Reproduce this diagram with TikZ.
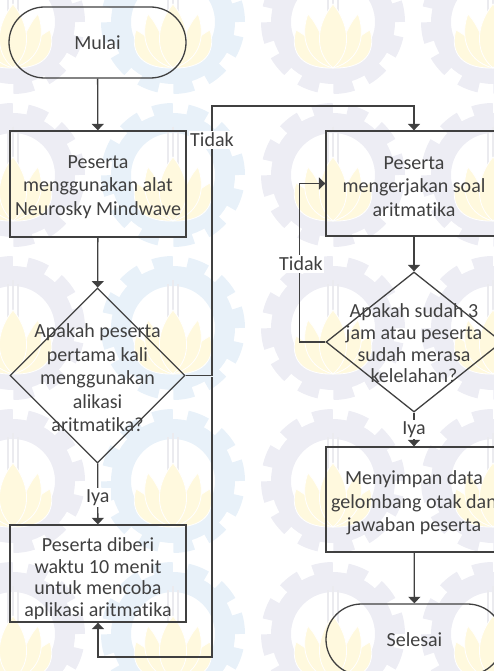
\documentclass[tikz,border=0pt]{standalone}
\usepackage{fontspec}
\setmainfont{Carlito}[Ligatures=NoCommon]
\usetikzlibrary{arrows.meta,shapes.geometric}

\definecolor{ink}{HTML}{404040}
\definecolor{gearlav}{HTML}{EDEDF4}
\definecolor{gearblue}{HTML}{E8F1F9}
\definecolor{lotus}{HTML}{FFF9DE}
\definecolor{staffgrey}{HTML}{EBEBEF}

% faint tiled emblem in the background: gear ring, staff and lotus
\newcommand{\emblem}[3]{%
  \begin{scope}[shift={(#1,#2)}]
    \draw[#3, line width=20pt] (0,0) circle[radius=52pt];
    \draw[#3, line width=12pt, dash pattern=on 20pt off 14.6pt] (0,0) circle[radius=66pt];
    \draw[staffgrey, line width=1.2pt] (-5,-44) -- (-5,6) (5,-44) -- (5,6) (0,-48) -- (0,2);
    \filldraw[fill=lotus, draw=white, line width=0.8pt]
      (0,46) .. controls (-38,47) and (-42,24) .. (-37,8) .. controls (-22,16) and (-10,30) .. (0,46);
    \filldraw[fill=lotus, draw=white, line width=0.8pt]
      (0,46) .. controls (38,47) and (42,24) .. (37,8) .. controls (22,16) and (10,30) .. (0,46);
    \filldraw[fill=lotus, draw=white, line width=0.8pt]
      (0,46) .. controls (-30,38) and (-32,10) .. (-25,-8) .. controls (-13,5) and (-7,26) .. (0,46);
    \filldraw[fill=lotus, draw=white, line width=0.8pt]
      (0,46) .. controls (30,38) and (32,10) .. (25,-8) .. controls (13,5) and (7,26) .. (0,46);
    \filldraw[fill=lotus, draw=white, line width=0.8pt]
      (0,46) .. controls (-21,28) and (-15,0) .. (0,-18) .. controls (15,0) and (21,28) .. (0,46);
  \end{scope}}

\tikzset{
  txt/.style={text=ink, font=\fontsize{20}{23.5}\selectfont, align=center},
  terminal/.style={draw=ink, line width=1.3pt, rectangle, rounded corners=35.5pt,
    minimum width=177pt, minimum height=71pt, inner sep=0pt, txt},
  process/.style={draw=ink, line width=1.3pt, rectangle, minimum width=176pt, inner sep=0pt},
  decision/.style={draw=ink, line width=1.3pt, diamond, inner sep=0pt},
  flow/.style={draw=ink, line width=1.3pt, -{Triangle[width=12pt,length=6.5pt]}},
  lbl/.style={fill=white, inner sep=1.5pt, txt}
}

\begin{document}
\begin{tikzpicture}[x=1pt, y=-1pt]
  \useasboundingbox (0,0) rectangle (494,671);

  % background emblems
  \begin{scope}
    \clip (0,0) rectangle (494,671);
    \foreach \yy in {22,175,328,481,634} {
      \emblem{13}{\yy}{gearlav}
      \emblem{173}{\yy}{gearblue}
      \emblem{333}{\yy}{gearlav}
      \emblem{493}{\yy}{gearlav}
    }
  \end{scope}

  % left column
  \node[terminal] (mulai) at (97.5,42.5) {Mulai};
  \node[process, minimum height=106pt] (alat) at (98,184) {};
  \node[txt] (alattxt) at (98,187)
    {Peserta\\menggunakan alat\\Neurosky Mindwave};
  \node[decision, minimum width=175pt, minimum height=175pt] (pertama) at (97.5,375.5) {};
  \node[txt] (pertamatxt) at (97.5,378)
    {Apakah peserta\\pertama kali\\menggunakan\\alikasi\\aritmatika?};
  \node[process, minimum height=97pt] (coba) at (98,573.5) {};
  \node[txt, font=\fontsize{20}{21.5}\selectfont] (cobatxt) at (98,578.5)
    {Peserta diberi\\waktu 10 menit\\untuk mencoba\\aplikasi aritmatika};

  % right column
  \node[process, minimum height=105pt] (soal) at (414,183.5) {};
  \node[txt] (soaltxt) at (414,186.5)
    {Peserta\\mengerjakan soal\\aritmatika};
  \node[decision, minimum width=176pt, minimum height=140pt] (lelah) at (414,342) {};
  \node[txt, font=\fontsize{20}{21.7}\selectfont] (lelahtxt) at (414,343.5)
    {Apakah sudah 3\\jam atau peserta\\sudah merasa\\kelelahan?};
  \node[process, minimum height=105pt] (simpan) at (414,499.5) {};
  \node[txt] (simpantxt) at (414,503)
    {Menyimpan data\\gelombang otak dan\\jawaban peserta};
  \node[terminal] (selesai) at (414.5,639.5) {Selesai};

  % helper points of the routed connectors
  \coordinate (cabang) at (212,377);
  \coordinate (atas) at (212,106);
  \coordinate (bawah) at (212,657);

  % connectors
  \draw[flow] (mulai) -- (alat);
  \draw[flow] (alat) -- (pertama);
  \draw[flow] (pertama) -- node[lbl, pos=0.56] (iya1) {Iya} (coba);
  \draw[flow] (pertama.east) -| (atas) -| (soal.north);
  \node[lbl] (tidak1) at (212,140) {Tidak};
  \draw[flow] (cabang) -- (bawah) -| (coba.south);

  \draw[flow] (soal) -- (lelah);
  \draw[flow] (lelah.west) -- ++(-26,0) |- (soal.west);
  \node[lbl] (tidak2) at (301,264) {Tidak};
  \draw[flow] (lelah) -- node[lbl, pos=0.5] (iya2) {Iya} (simpan);
  \draw[flow] (simpan) -- (selesai);
\end{tikzpicture}
\end{document}
